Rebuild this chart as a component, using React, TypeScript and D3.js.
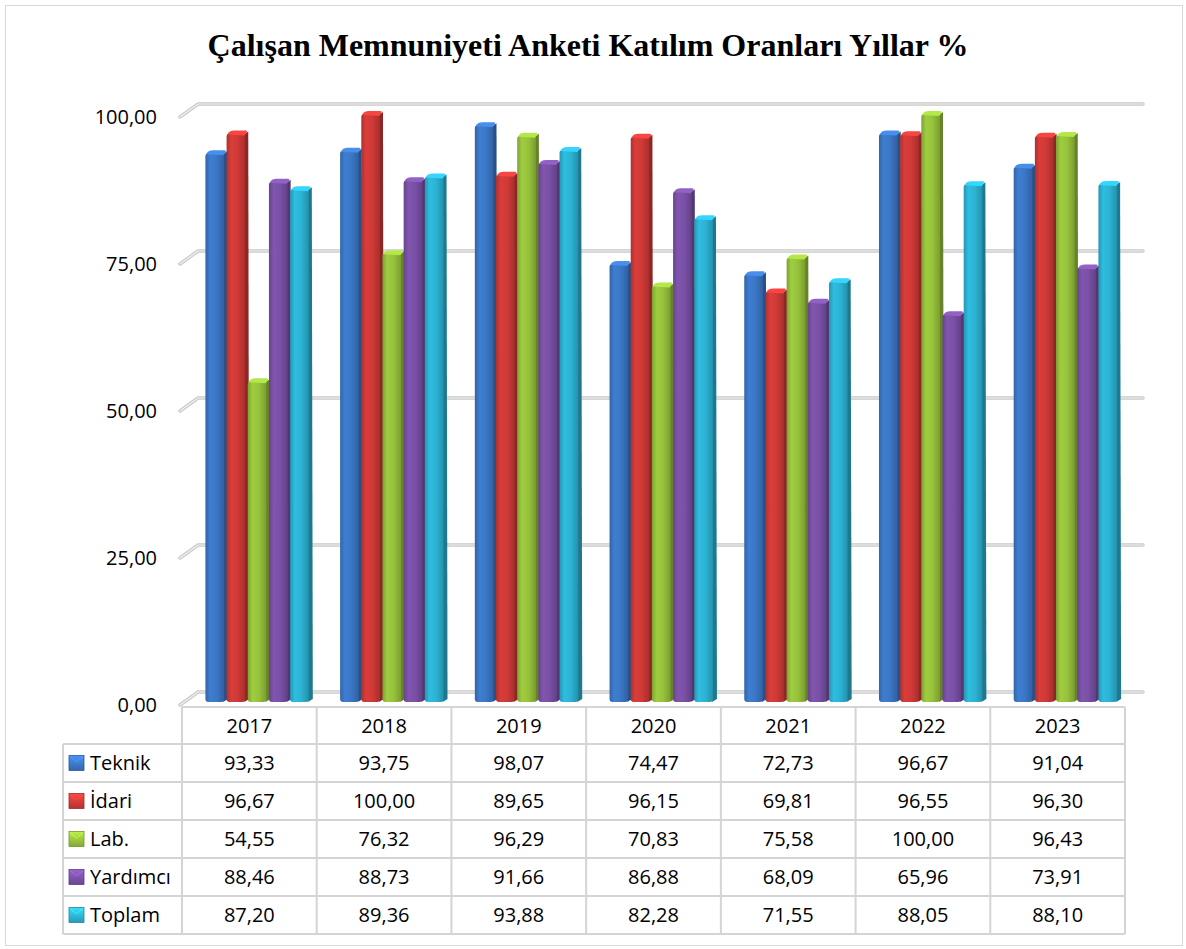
import * as d3 from 'd3';

const years = ['2017', '2018', '2019', '2020', '2021', '2022', '2023'];
const seriesNames = ['Teknik', 'İdari', 'Lab.', 'Yardımcı', 'Toplam'];
const teknik = [93.33, 93.75, 98.07, 74.47, 72.73, 96.67, 91.04];
const idari = [96.67, 100.0, 89.65, 96.15, 69.81, 96.55, 96.3];
const lab = [54.55, 76.32, 96.29, 70.83, 75.58, 100.0, 96.43];
const yardimci = [88.46, 88.73, 91.66, 86.88, 68.09, 65.96, 73.91];
const toplam = [87.2, 89.36, 93.88, 82.28, 71.55, 88.05, 88.1];
const yTicks = [0, 25, 50, 75, 100];

const seriesValues = [teknik, idari, lab, yardimci, toplam];
const colors = ['#3b77c6', '#cf3a37', '#97c23c', '#7a51a6', '#2cb3d4'];

const W = 1186;
const H = 949;
const font = '"Open Sans", sans-serif';
const fmt = (v: number) => v.toFixed(2).replace('.', ',');

export default function App() {
  const left = 182;
  const right = 1125;
  const depthX = 18;
  const depthY = -13;
  const x0 = d3.scaleBand<string>().domain(years).range([left, right]);
  const x1 = d3
    .scaleBand<string>()
    .domain(seriesNames)
    .range([0, x0.bandwidth()])
    .paddingOuter(0.68);
  const y = d3.scaleLinear().domain([0, 100]).range([705, 117]);

  const tableTop = 707;
  const headerBottom = 744;
  const rowH = 38;
  const legendLeft = 63;

  const bw = x1.bandwidth();
  const faceW = bw - 2.5;
  const sideX = 4;
  const sideY = -3;

  return (
    <svg width={W} height={H} style={{ display: 'block', position: 'absolute', left: 0, top: 0 }}>
      <defs>
        {colors.map((c, i) => {
          const base = d3.color(c)!;
          return (
            <g key={i}>
              <linearGradient id={`front${i}`} x1="0" x2="1" y1="0" y2="0">
                <stop offset="0" stopColor={base.darker(0.5).toString()} />
                <stop offset="0.25" stopColor={base.brighter(0.15).toString()} />
                <stop offset="0.6" stopColor={c} />
                <stop offset="1" stopColor={base.darker(0.6).toString()} />
              </linearGradient>
              <linearGradient id={`key${i}`} x1="0" x2="0" y1="0" y2="1">
                <stop offset="0" stopColor={base.brighter(0.6).toString()} />
                <stop offset="1" stopColor={base.darker(0.4).toString()} />
              </linearGradient>
            </g>
          );
        })}
      </defs>
      <rect x={5.5} y={5.5} width={1177} height={940} fill="#fff" stroke="#d9d9d9" strokeWidth={1} />

      <text
        x={588}
        y={56}
        textAnchor="middle"
        fontFamily='"Liberation Serif", "Times New Roman", serif'
        fontWeight="bold"
        fontSize={32}
        fill="#000"
      >
        Çalışan Memnuniyeti Anketi Katılım Oranları Yıllar %
      </text>

      {/* gridlines on the back wall */}
      {yTicks.map((t) => {
        const yf = y(t);
        const d = `M${left - 2},${yf} L${left - 2 + depthX},${yf + depthY} L${right + depthX},${yf + depthY}`;
        return (
          <g key={t}>
            <path d={d} fill="none" stroke="#c9c9c9" strokeWidth={3.5} strokeLinecap="round" />
            <path d={d} fill="none" stroke="#f2f2f2" strokeWidth={1.2} strokeLinecap="round" />
            <text
              x={157}
              y={yf}
              dy="0.35em"
              textAnchor="end"
              fontFamily={font}
              fontSize={20}
              fill="#000"
            >
              {fmt(t)}
            </text>
          </g>
        );
      })}

      {/* bars */}
      {years.map((yr, ci) => (
        <g key={yr}>
          {seriesNames.map((s, si) => {
            const v = seriesValues[si][ci];
            const bx = x0(yr)! + x1(s)! + depthX / 2;
            const yb = y(0) - 3;
            const yt = y(v) - 3;
            const base = d3.color(colors[si])!;
            const r = 4;
            const side = `M${bx + faceW - 1},${yt + 1} L${bx + faceW + sideX - 1},${yt + sideY + 1} L${bx + faceW + sideX},${yb + sideY} L${bx + faceW - 1},${yb}Z`;
            const top = `M${bx + 1},${yt + 1} Q${bx + 2},${yt + sideY} ${bx + r + sideX},${yt + sideY} L${bx + faceW + sideX - r},${yt + sideY} Q${bx + faceW + sideX},${yt + sideY} ${bx + faceW - 1},${yt + 2} Z`;
            return (
              <g key={s}>
                <path d={side} fill={base.darker(1.1).toString()} />
                <rect x={bx} y={yt} width={faceW} height={yb - yt} rx={3} fill={`url(#front${si})`} />
                <path d={top} fill={base.brighter(0.5).toString()} />
              </g>
            );
          })}
        </g>
      ))}

      {/* data table */}
      <g stroke="#d4d4d4" strokeWidth={2} fill="none">
        <line x1={left} x2={right} y1={tableTop} y2={tableTop} />
        {d3.range(0, 6).map((i) => (
          <line
            key={i}
            x1={legendLeft}
            x2={right}
            y1={headerBottom + i * rowH}
            y2={headerBottom + i * rowH}
          />
        ))}
        <line x1={legendLeft} x2={legendLeft} y1={headerBottom} y2={headerBottom + 5 * rowH} />
        {years.map((yr) => (
          <line key={yr} x1={x0(yr)!} x2={x0(yr)!} y1={tableTop} y2={headerBottom + 5 * rowH} />
        ))}
        <line x1={right} x2={right} y1={tableTop} y2={headerBottom + 5 * rowH} />
      </g>
      <g fontFamily={font} fontSize={20} fill="#000">
        {years.map((yr) => (
          <text
            key={yr}
            x={x0(yr)! + x0.bandwidth() / 2}
            y={(tableTop + headerBottom) / 2}
            dy="0.36em"
            textAnchor="middle"
          >
            {yr}
          </text>
        ))}
        {seriesNames.map((s, si) => {
          const cy = headerBottom + si * rowH + rowH / 2;
          return (
            <g key={s}>
              <rect
                x={69}
                y={cy - 7.5}
                width={15}
                height={15}
                fill={`url(#key${si})`}
                stroke={d3.color(colors[si])!.darker(0.8).toString()}
                strokeWidth={0.8}
              />
              <path
                d={`M${70},${cy - 6.5} L${76.5},${cy - 1} L${83},${cy - 6.5}`}
                fill="none"
                stroke={d3.color(colors[si])!.brighter(1).toString()}
                strokeWidth={1}
                opacity={0.7}
              />
              <text x={90} y={cy} dy="0.36em">
                {s}
              </text>
              {years.map((yr, ci) => (
                <text
                  key={yr}
                  x={x0(yr)! + x0.bandwidth() / 2}
                  y={cy}
                  dy="0.36em"
                  textAnchor="middle"
                >
                  {fmt(seriesValues[si][ci])}
                </text>
              ))}
            </g>
          );
        })}
      </g>
    </svg>
  );
}
